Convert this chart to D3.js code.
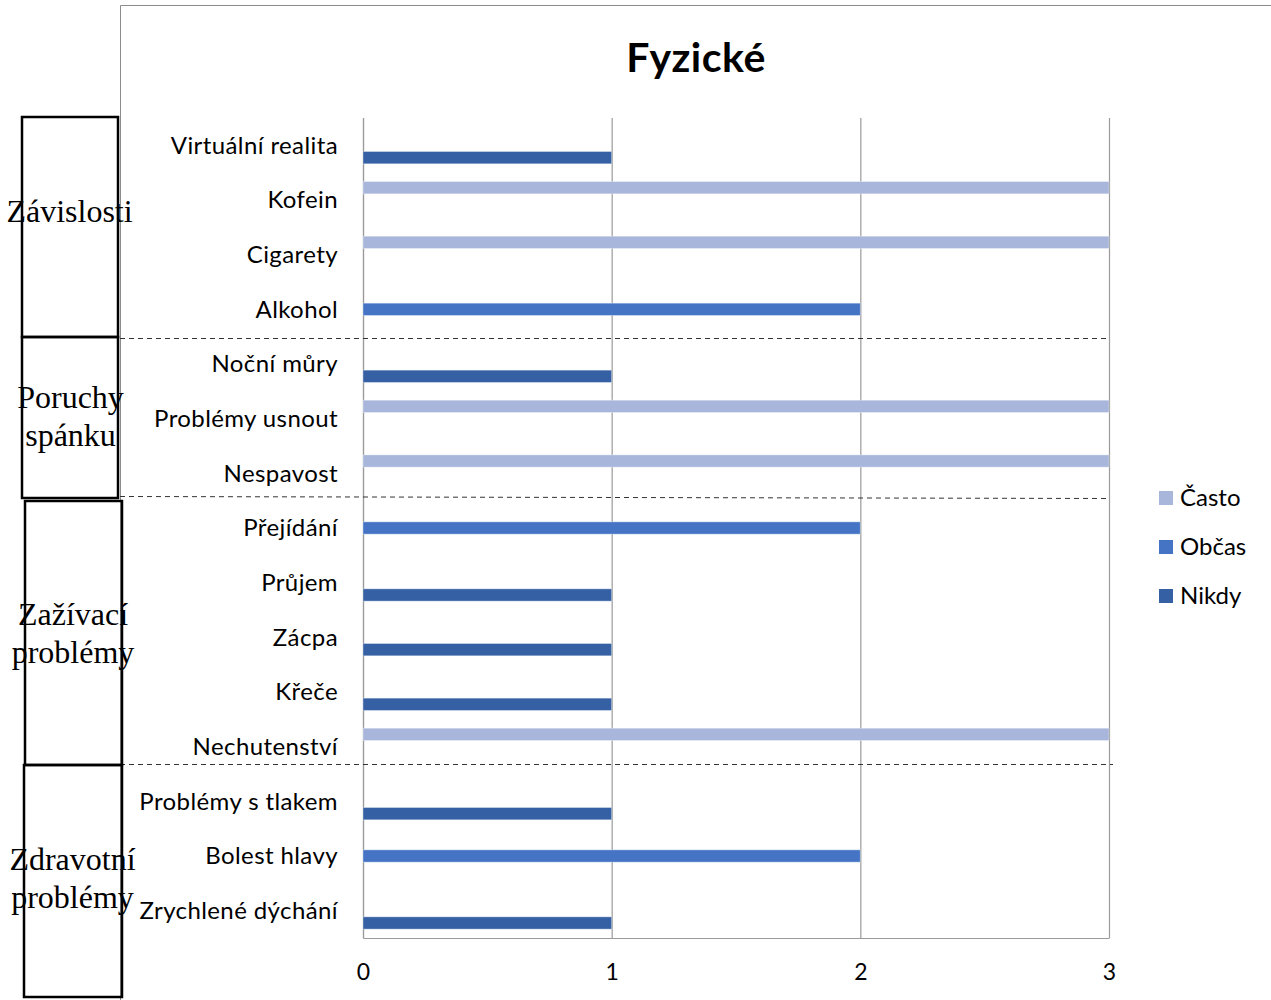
<!DOCTYPE html>
<html>
<head>
<meta charset="utf-8">
<script src="https://cdn.jsdelivr.net/npm/d3@7"></script>
<style>
  body { margin: 0; background: #fff; }
  .chart text { font-family: Lato, "Open Sans", sans-serif; fill: #000; }
  .chart .group-label { font-family: "Liberation Serif", "Times New Roman", serif; }
</style>
</head>
<body>
<div class="chart"></div>
<script>
const categories = [
  "Virtuální realita", "Kofein", "Cigarety", "Alkohol",
  "Noční můry", "Problémy usnout", "Nespavost",
  "Přejídání", "Průjem", "Zácpa", "Křeče", "Nechutenství",
  "Problémy s tlakem", "Bolest hlavy", "Zrychlené dýchání"
]
const seriesNames = ["Často", "Občas", "Nikdy"]
const casto = [0, 3, 3, 0, 0, 3, 3, 0, 0, 0, 0, 3, 0, 0, 0]
const obcas = [0, 0, 0, 2, 0, 0, 0, 2, 0, 0, 0, 0, 0, 2, 0]
const nikdy = [1, 0, 0, 0, 1, 0, 0, 0, 1, 1, 1, 0, 1, 0, 1]
const groupNames = [
  ["Závislosti"],
  ["Poruchy", "spánku"],
  ["Zažívací", "problémy"],
  ["Zdravotní", "problémy"]
]
const xTicks = [0, 1, 2, 3]
const titleText = "Fyzické"

const colors = {
  "Často": "#a8b6db",
  "Občas": "#4674c5",
  "Nikdy": "#3660a4",
  grid: "#9a9a9a",
  frame: "#8c8c8c",
  divider: "#333333"
}

const dims = {
  width: 1271,
  height: 1000,
  plotLeft: 363,
  plotRight: 1109,
  plotTop: 118,
  plotBottom: 938
}

// hand drawn text boxes on the left and the dashed separators
const boxes = [
  {x: 22, y: 117, w: 96, h: 220, cx: 69.5, baseline: 222},
  {x: 22, y: 337, w: 96, h: 161, cx: 70.5, baseline: 408},
  {x: 25, y: 501, w: 97, h: 264, cx: 73, baseline: 625},
  {x: 24, y: 765, w: 98, h: 232, cx: 72.5, baseline: 870}
]
const dividers = [
  {x1: 120, y1: 338.5, x2: 1109, y2: 338.5},
  {x1: 120, y1: 496.5, x2: 1109, y2: 498.5},
  {x1: 120, y1: 764.5, x2: 1113, y2: 764.5}
]

const seriesValues = {"Často": casto, "Občas": obcas, "Nikdy": nikdy}
const barData = seriesNames.flatMap(s =>
  categories.map((c, i) => ({series: s, category: c, value: seriesValues[s][i]}))
).filter(d => d.value > 0)

const xScale = d3.scaleLinear()
  .domain([0, 3])
  .range([dims.plotLeft, dims.plotRight])

const yScale = d3.scaleBand()
  .domain(categories)
  .range([dims.plotTop, dims.plotBottom])
  .padding(0)

const ySubScale = d3.scaleBand()
  .domain(seriesNames)
  .range([0, yScale.bandwidth()])
  .paddingInner(0)
  .paddingOuter(0.72)

const svg = d3.select(".chart")
  .append("svg")
    .attr("width", dims.width)
    .attr("height", dims.height)

// chart frame (top and left edges visible)
svg.append("path")
    .attr("d", `M120.5,${dims.height} V5.5 H${dims.width}`)
    .attr("fill", "none")
    .attr("stroke", colors.frame)
    .attr("stroke-width", 1)

svg.append("text")
    .attr("x", 696)
    .attr("y", 72)
    .attr("text-anchor", "middle")
    .style("font-size", "41px")
    .style("font-weight", "bold")
    .style("letter-spacing", "0.5px")
    .text(titleText)

// gridlines + x tick labels
svg.append("g")
    .attr("class", "x-axis")
    .attr("transform", `translate(0, ${dims.plotBottom})`)
    .call(d3.axisBottom(xScale)
      .tickValues(xTicks)
      .tickFormat(d3.format("d"))
      .tickSize(-(dims.plotBottom - dims.plotTop))
      .tickSizeOuter(0)
      .tickPadding(26))
    .call(g => g.select(".domain").attr("stroke", colors.grid))
    .call(g => g.selectAll(".tick line")
        .attr("stroke", colors.grid)
        .attr("stroke-width", 1.2))
    .call(g => g.selectAll(".tick text")
        .style("font-size", "23px"))

// category axis
svg.append("g")
    .attr("class", "y-axis")
    .attr("transform", `translate(${dims.plotLeft}, 0)`)
    .call(d3.axisLeft(yScale)
      .tickSize(0)
      .tickPadding(25))
    .call(g => g.select(".domain").attr("stroke", colors.grid).attr("stroke-width", 1.2))
    .call(g => g.selectAll(".tick text")
        .style("font-size", "24px")
        .style("letter-spacing", "0.4px")
        .attr("dy", "0.34em"))

svg.append("g")
    .attr("class", "bars")
  .selectAll("rect")
  .data(barData)
  .join("rect")
    .attr("x", xScale(0))
    .attr("y", d => yScale(d.category) + ySubScale(d.series))
    .attr("width", d => xScale(d.value) - xScale(0))
    .attr("height", ySubScale.bandwidth())
    .attr("fill", d => colors[d.series])
    .attr("stroke", "#ffffff")
    .attr("stroke-opacity", 0.35)
    .attr("stroke-width", 1)

// legend
const legend = svg.append("g")
    .attr("class", "legend")
  .selectAll("g")
  .data(seriesNames)
  .join("g")
    .attr("transform", (d, i) => `translate(1159, ${498 + i * 49})`)

legend.append("rect")
    .attr("y", -7)
    .attr("width", 14)
    .attr("height", 14)
    .attr("fill", d => colors[d])

legend.append("text")
    .attr("x", 21)
    .attr("dy", "0.34em")
    .style("font-size", "24px")
    .text(d => d)

// dashed group separators
svg.append("g")
  .selectAll("line")
  .data(dividers)
  .join("line")
    .attr("x1", d => d.x1)
    .attr("y1", d => d.y1)
    .attr("x2", d => d.x2)
    .attr("y2", d => d.y2)
    .attr("stroke", colors.divider)
    .attr("stroke-width", 1)
    .attr("stroke-dasharray", "5 4")

// group boxes with serif labels
const groupBoxes = svg.append("g")
  .selectAll("g")
  .data(boxes)
  .join("g")

groupBoxes.append("rect")
    .attr("x", d => d.x)
    .attr("y", d => d.y)
    .attr("width", d => d.w)
    .attr("height", d => d.h)
    .attr("fill", "none")
    .attr("stroke", "#000")
    .attr("stroke-width", 2.5)

groupBoxes.append("text")
    .attr("class", "group-label")
    .attr("text-anchor", "middle")
    .style("font-size", "32px")
  .selectAll("tspan")
  .data((d, i) => groupNames[i].map((t, j) => ({t, j, box: d})))
  .join("tspan")
    .attr("x", d => d.box.cx)
    .attr("y", d => d.box.baseline + d.j * 37.5)
    .text(d => d.t)
</script>
</body>
</html>
